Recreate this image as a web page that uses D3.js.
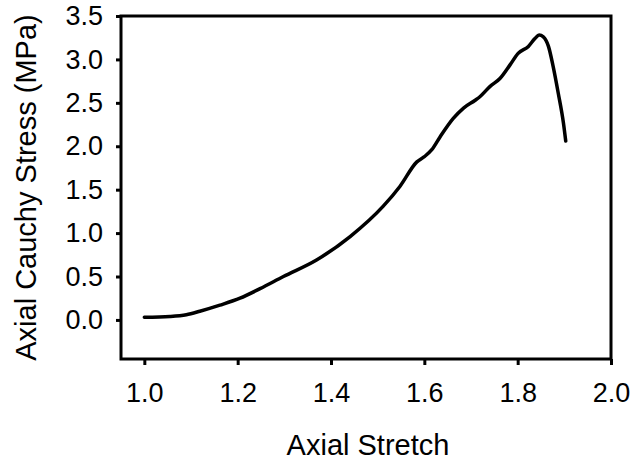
<!DOCTYPE html>
<html>
<head>
<meta charset="utf-8">
<script src="https://cdn.jsdelivr.net/npm/d3@7"></script>
<style>
body{margin:0;background:#fff;}
text{font-family:"Liberation Sans",Arial,sans-serif;fill:#000;}
</style>
</head>
<body>
<script>
var stretch=[1.000,1.055,1.090,1.119,1.162,1.205,1.248,1.298,1.369,1.441,1.512,1.548,1.584,1.600,1.616,1.634,1.662,1.684,1.709,1.719,1.741,1.762,1.784,1.801,1.823,1.837,1.846,1.855,1.866,1.876,1.887,1.898,1.903];
var stress=[0.03,0.04,0.06,0.10,0.17,0.25,0.36,0.50,0.69,0.96,1.31,1.54,1.82,1.88,1.96,2.11,2.32,2.44,2.53,2.57,2.69,2.78,2.94,3.07,3.15,3.24,3.28,3.26,3.15,2.92,2.61,2.27,2.06];
var xticks=[1.0,1.2,1.4,1.6,1.8,2.0];
var yticks=[0.0,0.5,1.0,1.5,2.0,2.5,3.0,3.5];
var xtitle="Axial Stretch";
var ytitle="Axial Cauchy Stress (MPa)";

var canvaswidth=631;
var canvasheight=461;
var pleft=121,pright=611,ptop=16,pbottom=359;

var svg=d3.select("body").append("svg").attr("width",canvaswidth).attr("height",canvasheight);

var x=d3.scaleLinear().domain([0.95,2.0]).range([pleft,pright]);
var y=d3.scaleLinear().domain([-0.45,3.5]).range([pbottom,ptop]);

// frame
svg.append("rect").attr("x",pleft).attr("y",ptop).attr("width",pright-pleft).attr("height",pbottom-ptop)
	.attr("fill","none").attr("stroke","#000").attr("stroke-width",3);

var xaxis=svg.append("g").attr("transform","translate(0,"+pbottom+")")
	.call(d3.axisBottom(x).tickValues(xticks).tickFormat(d3.format(".1f")).tickSize(6).tickPadding(18));
var yaxis=svg.append("g").attr("transform","translate("+pleft+",0)")
	.call(d3.axisLeft(y).tickValues(yticks).tickFormat(d3.format(".1f")).tickSize(5).tickPadding(13));

[xaxis,yaxis].forEach(function(a){
	a.select(".domain").remove();
	a.selectAll(".tick line").attr("stroke","#000").attr("stroke-width",3);
	a.selectAll(".tick text").attr("font-family","Liberation Sans, Arial, sans-serif").attr("fill","#000").attr("font-size",27);
});

var pts=stretch.map(function(d,i){return [d,stress[i]];});
var line=d3.line().x(function(d){return x(d[0]);}).y(function(d){return y(d[1]);}).curve(d3.curveMonotoneX);
svg.append("path").datum(pts).attr("d",line).attr("fill","none").attr("stroke","#000")
	.attr("stroke-width",3.5).attr("stroke-linecap","round").attr("stroke-linejoin","round");

svg.append("text").text(xtitle).attr("x",368).attr("y",455).attr("text-anchor","middle").attr("font-size",29);
svg.append("text").text(ytitle).attr("transform","translate(36,"+((ptop+pbottom)/2)+") rotate(-90)")
	.attr("text-anchor","middle").attr("font-size",29);
</script>
</body>
</html>
